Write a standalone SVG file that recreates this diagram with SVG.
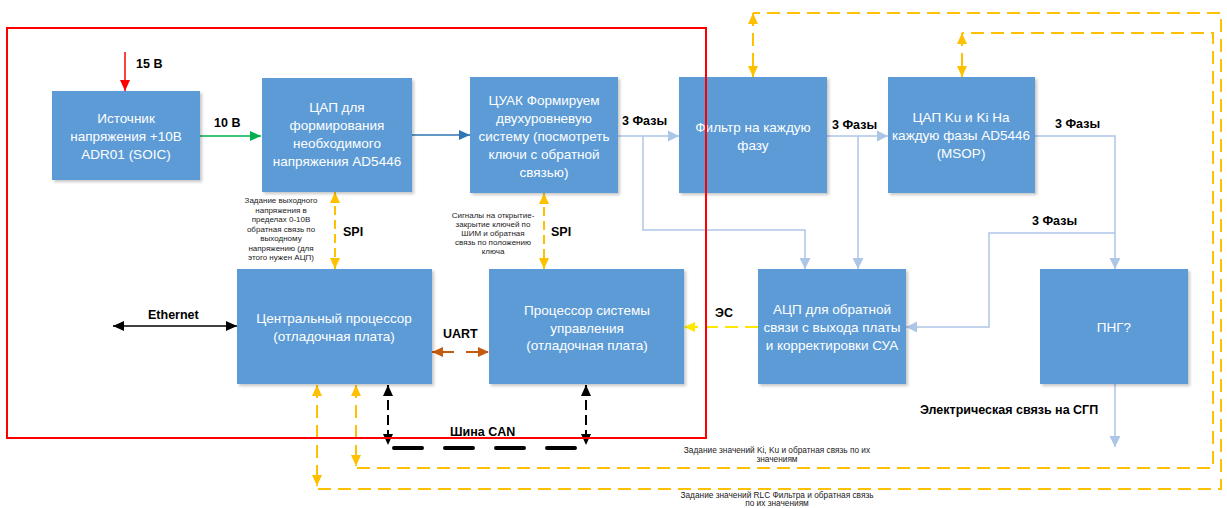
<svg xmlns="http://www.w3.org/2000/svg" width="1227" height="508" viewBox="0 0 1227 508">
<style>
.node{fill:#5B9BD5;filter:url(#sh)}
.nt{font-family:"Liberation Sans",Arial,sans-serif;font-size:13.5px;fill:#ffffff;text-anchor:middle}
.lb{font-family:"Liberation Sans",Arial,sans-serif;font-size:12.5px;font-weight:bold;fill:#000}
.sm{font-family:"Liberation Sans",Arial,sans-serif;font-size:8px;fill:#222;text-anchor:middle}
.bt{font-family:"Liberation Sans",Arial,sans-serif;font-size:8.3px;fill:#222;text-anchor:middle}
.ph{fill:none;stroke:#ADC5E7;stroke-width:1.5}
.yd{fill:none;stroke:#FFC000;stroke-width:2;stroke-dasharray:13,7}
</style>
<defs>
<filter id="sh" x="-5%" y="-5%" width="115%" height="115%"><feDropShadow dx="2" dy="2" stdDeviation="1.5" flood-color="#000" flood-opacity="0.22"/></filter>
<marker id="aR" markerUnits="userSpaceOnUse" markerWidth="12" markerHeight="12" refX="11" refY="6" orient="auto-start-reverse"><path d="M0,1 L11,6 L0,11 Z" fill="#FF0000"/></marker>
<marker id="aG" markerUnits="userSpaceOnUse" markerWidth="12" markerHeight="12" refX="11" refY="6" orient="auto-start-reverse"><path d="M0,1 L11,6 L0,11 Z" fill="#00B050"/></marker>
<marker id="aB" markerUnits="userSpaceOnUse" markerWidth="12" markerHeight="12" refX="11" refY="6" orient="auto-start-reverse"><path d="M0,1 L11,6 L0,11 Z" fill="#2E75B6"/></marker>
<marker id="aL" markerUnits="userSpaceOnUse" markerWidth="12" markerHeight="12" refX="11" refY="6" orient="auto-start-reverse"><path d="M0,0.5 L11,6 L0,11.5 Z" fill="#ADC5E7"/></marker>
<marker id="aY" markerUnits="userSpaceOnUse" markerWidth="12" markerHeight="12" refX="11" refY="6" orient="auto-start-reverse"><path d="M0,1 L11,6 L0,11 Z" fill="#FFC000"/></marker>
<marker id="aE" markerUnits="userSpaceOnUse" markerWidth="12" markerHeight="12" refX="11" refY="6" orient="auto-start-reverse"><path d="M0,1 L11,6 L0,11 Z" fill="#FFE800"/></marker>
<marker id="aK" markerUnits="userSpaceOnUse" markerWidth="12" markerHeight="12" refX="11" refY="6" orient="auto-start-reverse"><path d="M0,1 L11,6 L0,11 Z" fill="#000"/></marker>
<marker id="aO" markerUnits="userSpaceOnUse" markerWidth="12" markerHeight="12" refX="11" refY="6" orient="auto-start-reverse"><path d="M0,1 L11,6 L0,11 Z" fill="#C55A11"/></marker>
</defs>
<rect width="1227" height="508" fill="#ffffff"/>

<g id="connectors">
<line x1="125" y1="52" x2="125" y2="91" stroke="#FF0000" stroke-width="1.5" marker-end="url(#aR)"/>
<line x1="200" y1="136" x2="261" y2="136" stroke="#00B050" stroke-width="1.5" marker-end="url(#aG)"/>
<line x1="412" y1="135" x2="470" y2="135" stroke="#2E75B6" stroke-width="1.5" marker-end="url(#aB)"/>
<line x1="618" y1="136" x2="679" y2="136" class="ph" marker-end="url(#aL)"/>
<path d="M643,136 V230 H805 V269" class="ph" marker-end="url(#aL)"/>
<line x1="827" y1="136" x2="888" y2="136" class="ph" marker-end="url(#aL)"/>
<path d="M858,136 V269" class="ph" marker-end="url(#aL)"/>
<path d="M1035,136 H1115 V269" class="ph" marker-end="url(#aL)"/>
<path d="M1115,233 H989 V327 H906" class="ph" marker-end="url(#aL)"/>
<path d="M1115,384 V447" class="ph" marker-end="url(#aL)"/>
<line x1="758" y1="327" x2="684" y2="327" stroke="#FFE800" stroke-width="2" stroke-dasharray="13,7" marker-end="url(#aE)"/>
<line x1="335" y1="192" x2="335" y2="269" stroke="#FFC000" stroke-width="2" stroke-dasharray="9,5" marker-start="url(#aY)" marker-end="url(#aY)"/>
<line x1="544" y1="193" x2="544" y2="269" stroke="#FFC000" stroke-width="2" stroke-dasharray="9,5" marker-start="url(#aY)" marker-end="url(#aY)"/>
<line x1="113" y1="326" x2="237" y2="326" stroke="#000" stroke-width="1.5" marker-start="url(#aK)" marker-end="url(#aK)"/>
<line x1="432" y1="352" x2="489" y2="352" stroke="#C55A11" stroke-width="2" stroke-dasharray="22,12" marker-start="url(#aO)" marker-end="url(#aO)"/>
<line x1="388" y1="385" x2="388" y2="445" stroke="#000" stroke-width="2" stroke-dasharray="10,5" marker-start="url(#aK)" marker-end="url(#aK)"/>
<line x1="586" y1="385" x2="586" y2="445" stroke="#000" stroke-width="2" stroke-dasharray="10,5" marker-start="url(#aK)" marker-end="url(#aK)"/>
<line x1="394" y1="448" x2="584" y2="448" stroke="#000" stroke-width="4" stroke-linecap="round" stroke-dasharray="28,23"/>
<line x1="356" y1="385" x2="356" y2="466" class="yd" marker-start="url(#aY)" marker-end="url(#aY)"/>
<path d="M357,468 H1213 V33 H962" class="yd"/>
<line x1="962" y1="33" x2="962" y2="77" class="yd" stroke-dasharray="9,5" marker-start="url(#aY)" marker-end="url(#aY)"/>
<line x1="317" y1="385" x2="317" y2="486" class="yd" marker-start="url(#aY)" marker-end="url(#aY)"/>
<path d="M318,489 H1221 V13 H753" class="yd"/>
<line x1="753" y1="13" x2="753" y2="77" class="yd" stroke-dasharray="9,5" marker-start="url(#aY)" marker-end="url(#aY)"/>
</g>

<g id="labels">
<text x="136" y="68" class="lb">15 В</text>
<text x="214" y="127" class="lb">10 В</text>
<text x="622" y="125" class="lb">3 Фазы</text>
<text x="832" y="129" class="lb">3 Фазы</text>
<text x="1055" y="128" class="lb">3 Фазы</text>
<text x="1032" y="225" class="lb">3 Фазы</text>
<text x="343" y="236" class="lb">SPI</text>
<text x="551" y="236" class="lb">SPI</text>
<text x="148" y="319" class="lb">Ethernet</text>
<text x="443" y="338" class="lb">UART</text>
<text x="715" y="317" class="lb">ЭС</text>
<text x="450" y="436" class="lb">Шина CAN</text>
<text x="920" y="414" class="lb">Электрическая связь на СГП</text>
<text class="sm"><tspan x="281" y="203">Задание выходного</tspan><tspan x="281" y="212.5">напряжения в</tspan><tspan x="281" y="222">пределах 0-10В</tspan><tspan x="281" y="231.5">обратная связь по</tspan><tspan x="281" y="241">выходному</tspan><tspan x="281" y="250.5">напряжению (для</tspan><tspan x="281" y="260">этого нужен АЦП)</tspan></text>
<text class="sm"><tspan x="493" y="218">Сигналы на открытие-</tspan><tspan x="493" y="227">закрытие ключей по</tspan><tspan x="493" y="236">ШИМ и обратная</tspan><tspan x="493" y="245">связь по положению</tspan><tspan x="493" y="254">ключа</tspan></text>
<text class="bt"><tspan x="777" y="453">Задание значений Ki, Ku и обратная связь по их</tspan><tspan x="777" y="462">значениям</tspan></text>
<text class="bt"><tspan x="777" y="498">Задание значений RLC Фильтра и обратная связь</tspan><tspan x="777" y="506">по их значениям</tspan></text>
</g>

<g id="n-source"><rect class="node" x="52" y="91" width="148" height="89"/><text class="nt"><tspan x="126" y="123">Источник</tspan><tspan x="126" y="141">напряжения +10В</tspan><tspan x="126" y="159">ADR01 (SOIC)</tspan></text></g>
<g id="n-dac1"><rect class="node" x="262" y="78" width="150" height="114"/><text class="nt"><tspan x="337" y="112">ЦАП для</tspan><tspan x="337" y="130">формирования</tspan><tspan x="337" y="148">необходимого</tspan><tspan x="337" y="166">напряжения AD5446</tspan></text></g>
<g id="n-tsuak"><rect class="node" x="470" y="77" width="148" height="116"/><text class="nt"><tspan x="544" y="105">ЦУАК Формируем</tspan><tspan x="544" y="123">двухуровневую</tspan><tspan x="544" y="141">систему (посмотреть</tspan><tspan x="544" y="159">ключи с обратной</tspan><tspan x="544" y="177">связью)</tspan></text></g>
<g id="n-filter"><rect class="node" x="679" y="77" width="148" height="116"/><text class="nt"><tspan x="753" y="132">Фильтр на каждую</tspan><tspan x="753" y="150">фазу</tspan></text></g>
<g id="n-dac2"><rect class="node" x="888" y="77" width="147" height="116"/><text class="nt"><tspan x="961" y="122">ЦАП Ku и Ki На</tspan><tspan x="961" y="140">каждую фазы AD5446</tspan><tspan x="961" y="158">(MSOP)</tspan></text></g>
<g id="n-cpu"><rect class="node" x="237" y="269" width="195" height="115"/><text class="nt"><tspan x="334" y="323">Центральный процессор</tspan><tspan x="334" y="341">(отладочная плата)</tspan></text></g>
<g id="n-cu"><rect class="node" x="489" y="269" width="195" height="115"/><text class="nt"><tspan x="587" y="315">Процессор системы</tspan><tspan x="587" y="333">управления</tspan><tspan x="587" y="350">(отладочная плата)</tspan></text></g>
<g id="n-adc"><rect class="node" x="758" y="269" width="148" height="115"/><text class="nt"><tspan x="832" y="314">АЦП для обратной</tspan><tspan x="832" y="332">связи с выхода платы</tspan><tspan x="832" y="350">и корректировки СУА</tspan></text></g>
<g id="n-png"><rect class="node" x="1040" y="269" width="148" height="115"/><text class="nt"><tspan x="1114" y="332">ПНГ?</tspan></text></g>

<rect x="7" y="28" width="699" height="410" fill="none" stroke="#FF0000" stroke-width="2"/>
</svg>
